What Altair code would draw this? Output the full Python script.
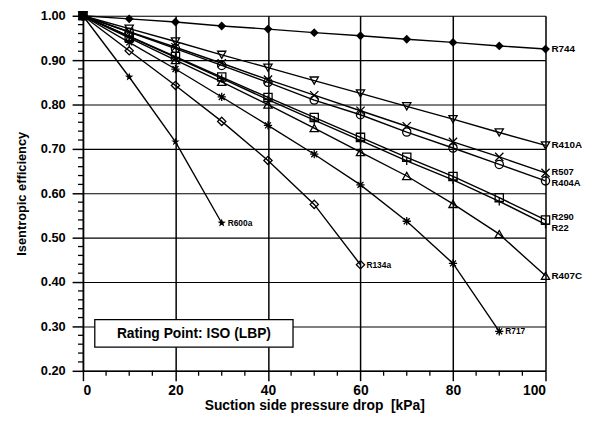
import altair as alt
import pandas as pd

# ---- data ----
pressure_drop = [0, 10, 20, 30, 40, 50, 60, 70, 80, 90, 100]

r744  = [1.000, 0.993, 0.986, 0.977, 0.970, 0.962, 0.955, 0.947, 0.940, 0.932, 0.925]
r410a = [1.000, 0.971, 0.942, 0.912, 0.883, 0.854, 0.825, 0.796, 0.767, 0.737, 0.708]
r507  = [1.000, 0.964, 0.929, 0.893, 0.856, 0.821, 0.786, 0.751, 0.716, 0.682, 0.646]
r404a = [1.000, 0.963, 0.926, 0.888, 0.850, 0.810, 0.777, 0.738, 0.702, 0.665, 0.628]
r290  = [1.000, 0.954, 0.908, 0.862, 0.816, 0.771, 0.726, 0.681, 0.638, 0.590, 0.540]
r22   = [1.000, 0.953, 0.906, 0.859, 0.811, 0.765, 0.719, 0.673, 0.630, 0.582, 0.530]
r407c = [1.000, 0.950, 0.900, 0.851, 0.800, 0.747, 0.693, 0.639, 0.576, 0.508, 0.414]
r717  = [1.000, 0.940, 0.880, 0.817, 0.753, 0.688, 0.619, 0.537, 0.442, 0.289]
r134a = [1.000, 0.921, 0.843, 0.762, 0.674, 0.575, 0.439]
r600a = [1.000, 0.862, 0.716, 0.533]

series_names = ["R744", "R410A", "R507", "R404A", "R290", "R22", "R407C", "R717", "R134a", "R600a"]
series_values = [r744, r410a, r507, r404a, r290, r22, r407c, r717, r134a, r600a]

x_ticks = [0, 20, 40, 60, 80, 100]
x_minor = [5, 10, 15, 25, 30, 35, 45, 50, 55, 65, 70, 75, 85, 90, 95]
y_ticks = [0.2, 0.3, 0.4, 0.5, 0.6, 0.7, 0.8, 0.9, 1.0]
y_minor = [0.22, 0.24, 0.26, 0.28, 0.32, 0.34, 0.36, 0.38, 0.42, 0.44, 0.46, 0.48,
           0.52, 0.54, 0.56, 0.58, 0.62, 0.64, 0.66, 0.68, 0.72, 0.74, 0.76, 0.78,
           0.82, 0.84, 0.86, 0.88, 0.92, 0.94, 0.96, 0.98]

annotation = "Rating Point: ISO (LBP)"
x_title = "Suction side pressure drop\u00a0 [kPa]"
y_title = "Isentropic efficiency"

# ---- build tables ----
rows = []
for name, vals in zip(series_names, series_values):
    for xv, yv in zip(pressure_drop, vals):
        rows.append({"series": name, "dp": xv, "eta": yv})
df = pd.DataFrame(rows)
last = df.groupby("series", as_index=False).last()

FONT = "Liberation Sans"

X_PATH = "M-1,-1L1,1M-1,1L1,-1"
PLUS_PATH = "M-1,0L1,0M0,-1L0,1"
AST_PATH = "M-1,0L1,0M0,-1L0,1M-0.72,-0.72L0.72,0.72M-0.72,0.72L0.72,-0.72"
STAR_PATH = ("M0,-1L0.235,-0.324L0.951,-0.309L0.380,0.124L0.588,0.809L0,0.4"
             "L-0.588,0.809L-0.380,0.124L-0.951,-0.309L-0.235,-0.324Z")

shape_map = {
    "R744": "diamond", "R410A": "triangle-down", "R507": X_PATH, "R404A": "circle",
    "R290": "square", "R22": PLUS_PATH, "R407C": "triangle-up", "R717": AST_PATH,
    "R134a": "diamond", "R600a": STAR_PATH,
}
filled_series = ["R744", "R600a"]
open_series = [s for s in series_names if s not in filled_series]

xscale = alt.Scale(domain=[0, 100], nice=False, zero=False)
yscale = alt.Scale(domain=[0.2, 1.0], nice=False, zero=False)

xaxis = alt.Axis(values=x_ticks, grid=True, gridColor="black", gridWidth=1.5,
                 tickSize=10, tickColor="black", tickWidth=1.5,
                 domainColor="black", domainWidth=1.5,
                 labelFont=FONT, labelFontSize=14, labelFontWeight="bold", labelColor="black",
                 labelPadding=3,
                 title=x_title, titleFont=FONT, titleFontSize=14,
                 titleFontWeight="bold", titleColor="black", titlePadding=1)
yaxis = alt.Axis(values=y_ticks, format=".2f", grid=True, gridColor="black", gridWidth=1.1,
                 tickSize=11, tickColor="black", tickWidth=1.5,
                 domainColor="black", domainWidth=1.5,
                 labelFont=FONT, labelFontSize=13, labelFontWeight="bold", labelColor="black",
                 labelPadding=7,
                 title=y_title, titleFont=FONT, titleFontSize=13,
                 titleFontWeight="bold", titleColor="black", titlePadding=12)

X = lambda f: alt.X(f, scale=xscale, axis=xaxis)
Y = lambda f: alt.Y(f, scale=yscale, axis=yaxis)

base = alt.Chart(df)

lines = base.mark_line(color="black", strokeWidth=1.4).encode(
    x=X("dp:Q"), y=Y("eta:Q"), detail="series:N",
)

shape_scale = alt.Scale(domain=series_names, range=[shape_map[s] for s in series_names])

open_pts = base.transform_filter(
    alt.FieldOneOfPredicate(field="series", oneOf=open_series)
).mark_point(filled=False, color="black", strokeWidth=1.3, size=70, opacity=1).encode(
    x=X("dp:Q"), y=Y("eta:Q"),
    shape=alt.Shape("series:N", scale=shape_scale, legend=None),
)

filled_pts = base.transform_filter(
    alt.FieldOneOfPredicate(field="series", oneOf=filled_series)
).mark_point(filled=True, color="black", size=80, opacity=1).encode(
    x=X("dp:Q"), y=Y("eta:Q"),
    shape=alt.Shape("series:N", scale=shape_scale, legend=None),
)

lab_base = alt.Chart(last)


def label_layer(names, dy=0, size=10):
    return lab_base.transform_filter(
        alt.FieldOneOfPredicate(field="series", oneOf=names)
    ).mark_text(align="left", baseline="middle", dx=6, dy=dy, font=FONT, fontSize=size,
                fontWeight="bold", color="black").encode(
        x=X("dp:Q"), y=Y("eta:Q"), text="series:N")


right_labels = label_layer(["R744", "R410A", "R407C"])
r507_label = label_layer(["R507"], dy=-1, size=9.5)
r404a_label = label_layer(["R404A"], dy=2, size=9.5)
r290_label = label_layer(["R290"], dy=-3, size=9.5)
r22_label = label_layer(["R22"], dy=4, size=9.5)
inner_labels = label_layer(["R717", "R134a", "R600a"], size=8.5)

xminor = alt.Chart(pd.DataFrame({"v": x_minor})).mark_rule(color="black", strokeWidth=1.3).encode(
    x=X("v:Q"), y=alt.value(360), y2=alt.value(365))
yminor = alt.Chart(pd.DataFrame({"v": y_minor})).mark_rule(color="black", strokeWidth=1.3).encode(
    y=Y("v:Q"), x=alt.value(-5), x2=alt.value(0))

box = alt.Chart(pd.DataFrame({"t": [annotation]})).mark_rect(
    fill="white", stroke="black", strokeWidth=1.3).encode(
    x=alt.value(12), x2=alt.value(213), y=alt.value(308), y2=alt.value(336))
box_text = alt.Chart(pd.DataFrame({"t": [annotation]})).mark_text(
    font=FONT, fontSize=14, fontWeight="bold", color="black", align="center",
    baseline="middle").encode(x=alt.value(112.5), y=alt.value(322.5), text="t:N")

chart = alt.layer(
    lines, open_pts, filled_pts, right_labels, r507_label, r404a_label, r290_label,
    r22_label, inner_labels, xminor, yminor, box, box_text
).properties(
    width=469, height=360,
    autosize=alt.AutoSizeParams(type="none"),
    padding={"left": 76, "top": 5, "right": 37, "bottom": 47},
).configure_view(stroke="black", strokeWidth=1).configure(background="white")

chart.save("out.html", embed_options={"renderer": "svg", "actions": False})
